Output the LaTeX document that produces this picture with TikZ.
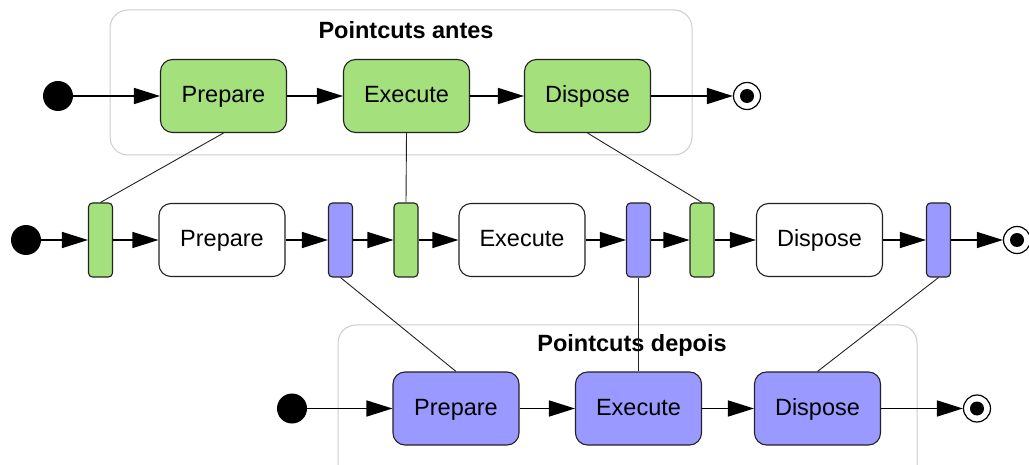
\documentclass[tikz,border=0pt]{standalone}
\usepackage{fontspec}
\setmainfont{Liberation Sans}
\usetikzlibrary{arrows.meta}
\definecolor{antesgreen}{HTML}{A4E07B}
\definecolor{depoisblue}{HTML}{9999FF}
\definecolor{edge}{HTML}{222222}
\definecolor{groupline}{HTML}{CCCCCC}
\begin{document}
\begin{tikzpicture}[x=1pt,y=-1pt,
  every node/.style={font=\fontsize{23.5}{28}\selectfont},
  action/.style={draw=edge, line width=1.1pt, rounded corners=12pt,
    minimum width=126pt, minimum height=73pt, inner sep=0pt,
    text height=17pt, text depth=4pt},
  greenact/.style={action, fill=antesgreen},
  blueact/.style={action, fill=depoisblue},
  plainact/.style={action, fill=white},
  bar/.style={draw=edge, line width=1.1pt, rounded corners=4pt,
    minimum width=24pt, minimum height=74pt, inner sep=0pt},
  greenbar/.style={bar, fill=antesgreen},
  bluebar/.style={bar, fill=depoisblue},
  initial/.style={circle, fill=black, minimum size=30pt, inner sep=0pt},
  final/.style={circle, draw=black, fill=white, line width=1.2pt,
    minimum size=27pt, inner sep=0pt,
    path picture={\fill[black] (path picture bounding box.center) circle (7pt);}},
  flow/.style={draw=black, line width=1.6pt,
    -{Triangle[length=26pt,width=16pt]}},
  thinflow/.style={flow, line width=1.3pt},
  link/.style={draw=edge, line width=0.9pt},
  group/.style={draw=groupline, line width=1pt, rounded corners=18pt},
  grouptitle/.style={font=\fontsize{23.5}{28}\selectfont\bfseries}
]
\clip (0,0) rectangle (1029,465);

% group frames
\draw[group] (110,10) rectangle (692,155);
\draw[group] (338,325) rectangle (917,495);
\node[grouptitle] (tantes) at (406,30) {Pointcuts antes};
\node[grouptitle] (tdepois) at (632,345) {Pointcuts depois};

% before-advice chain
\node[initial] (s1) at (58,96) {};
\node[greenact] (ap) at (223.5,96) {Prepare};
\node[greenact] (ae) at (406.5,96) {Execute};
\node[greenact] (ad) at (587.5,96) {Dispose};
\node[final] (f1) at (747,96) {};

% woven main chain
\node[initial] (s2) at (26,240) {};
\node[greenbar] (g1) at (100.5,240) {};
\node[plainact] (mp) at (222,240) {Prepare};
\node[bluebar] (b1) at (340.5,240) {};
\node[greenbar] (g2) at (406,240) {};
\node[plainact] (me) at (522,240) {Execute};
\node[bluebar] (b2) at (638.5,240) {};
\node[greenbar] (g3) at (702,240) {};
\node[plainact] (md) at (819.5,240) {Dispose};
\node[bluebar] (b3) at (938.5,240) {};
\node[final] (f2) at (1017,240) {};

% after-advice chain
\node[initial] (s3) at (292,408.5) {};
\node[blueact] (dp) at (456,408.5) {Prepare};
\node[blueact] (de) at (638.5,408.5) {Execute};
\node[blueact] (dd) at (817.5,408.5) {Dispose};
\node[final] (f3) at (977,408.5) {};

% control flow
\draw[flow] (s1) -- (ap);
\draw[flow] (ap) -- (ae);
\draw[flow] (ae) -- (ad);
\draw[flow] (ad) -- (f1);

\draw[thinflow] (s2) -- (g1);
\draw[thinflow] (g1) -- (mp);
\draw[thinflow] (mp) -- (b1);
\draw[thinflow] (b1) -- (g2);
\draw[thinflow] (g2) -- (me);
\draw[thinflow] (me) -- (b2);
\draw[thinflow] (b2) -- (g3);
\draw[thinflow] (g3) -- (md);
\draw[thinflow] (md) -- (b3);
\draw[thinflow] (b3) -- (f2);

\draw[flow] (s3) -- (dp);
\draw[flow] (dp) -- (de);
\draw[flow] (de) -- (dd);
\draw[flow] (dd) -- (f3);

% join points
\draw[link] (ap.south) -- (g1.north);
\draw[link] (ae.south) -- (g2.north);
\draw[link] (ad.south) -- (g3.north);
\draw[link] (b1.south) -- (dp.north);
\draw[link] (b2.south) -- (de.north);
\draw[link] (b3.south) -- (dd.north);
\end{tikzpicture}
\end{document}
